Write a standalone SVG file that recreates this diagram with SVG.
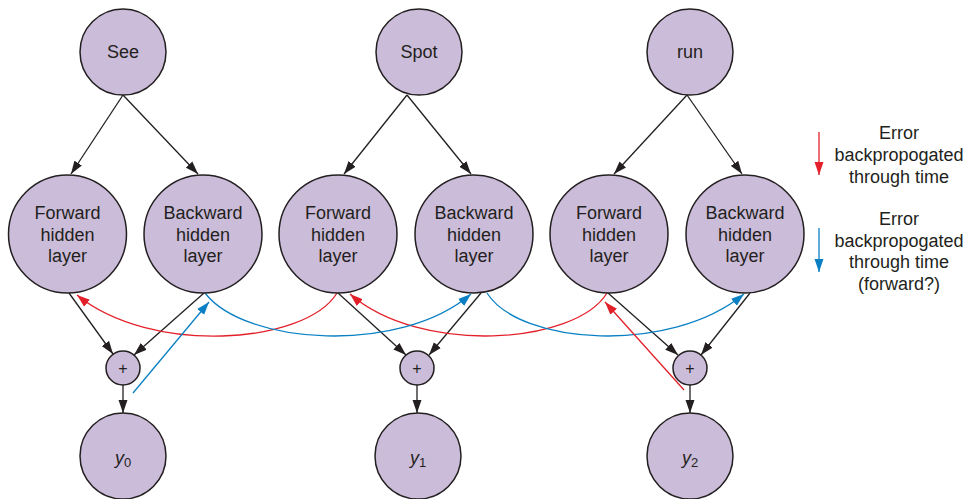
<svg xmlns="http://www.w3.org/2000/svg" width="970" height="499" viewBox="0 0 970 499">
<style>
.n{fill:#cbbcd9;stroke:#231f20;stroke-width:1.5}
.t{font-family:"Liberation Sans",Arial,sans-serif;font-size:18px;fill:#231f20;text-anchor:middle}
.k{fill:none;stroke:#231f20;stroke-width:1.3}
.r{fill:none;stroke:#e3202a;stroke-width:1.3}
.b{fill:none;stroke:#0a80c4;stroke-width:1.3}
</style>
<defs>
<marker id="ak" markerUnits="userSpaceOnUse" markerWidth="14" markerHeight="10" refX="13" refY="5" orient="auto"><path d="M0,0.5 L13,5 L0,9.5 Z" fill="#231f20"/></marker>
<marker id="ar" markerUnits="userSpaceOnUse" markerWidth="14" markerHeight="10" refX="13" refY="5" orient="auto"><path d="M0,0.5 L13,5 L0,9.5 Z" fill="#e3202a"/></marker>
<marker id="ab" markerUnits="userSpaceOnUse" markerWidth="14" markerHeight="10" refX="13" refY="5" orient="auto"><path d="M0,0.5 L13,5 L0,9.5 Z" fill="#0a80c4"/></marker>
</defs>
<rect width="970" height="499" fill="#fff"/>
<g id="connectors">
<path class="k" marker-end="url(#ak)" d="M123,95 L71,174"/>
<path class="k" marker-end="url(#ak)" d="M123,95 L198,174"/>
<path class="k" marker-end="url(#ak)" d="M407,95 L344,174"/>
<path class="k" marker-end="url(#ak)" d="M407,95 L471,174"/>
<path class="k" marker-end="url(#ak)" d="M687,95 L614,174"/>
<path class="k" marker-end="url(#ak)" d="M687,95 L742,174"/>
<path class="k" marker-end="url(#ak)" d="M69,293 L113,354"/>
<path class="k" marker-end="url(#ak)" d="M204,293 L134,355"/>
<path class="k" marker-end="url(#ak)" d="M338,293 L406,355"/>
<path class="k" marker-end="url(#ak)" d="M481,293 L429,355"/>
<path class="k" marker-end="url(#ak)" d="M608,293 L678,355"/>
<path class="k" marker-end="url(#ak)" d="M750,293 L701,355"/>
<path class="k" marker-end="url(#ak)" d="M123,385 L123,413"/>
<path class="k" marker-end="url(#ak)" d="M417,385 L417,413"/>
<path class="k" marker-end="url(#ak)" d="M690,385 L690,413"/>
<path class="r" marker-end="url(#ar)" d="M337,293 C305,345 150,355 77,295"/>
<path class="r" marker-end="url(#ar)" d="M607,293 C575,345 420,355 350,294"/>
<path class="b" marker-end="url(#ab)" d="M205,293 C245,345 400,355 471,294"/>
<path class="b" marker-end="url(#ab)" d="M487,293 C520,345 670,355 744,294"/>
<path class="b" marker-end="url(#ab)" d="M133,393 L209,302"/>
<path class="r" marker-end="url(#ar)" d="M684,390 L605,302"/>
<path class="r" marker-end="url(#ar)" d="M819,132 L819,175"/>
<path class="b" marker-end="url(#ab)" d="M819,228 L819,272"/>
</g>
<g id="see"><circle class="n" cx="123" cy="52" r="43"/><text class="t" x="123" y="58">See</text></g>
<g id="spot"><circle class="n" cx="419" cy="52" r="43"/><text class="t" x="419" y="58">Spot</text></g>
<g id="run"><circle class="n" cx="690" cy="52" r="43"/><text class="t" x="690" y="58">run</text></g>
<g id="fwd0"><circle class="n" cx="67.5" cy="234" r="59"/><text class="t" x="67.5" y="219">Forward<tspan x="67.5" dy="21.5">hidden</tspan><tspan x="67.5" dy="21.5">layer</tspan></text></g>
<g id="bwd0"><circle class="n" cx="203" cy="234" r="59"/><text class="t" x="203" y="219">Backward<tspan x="203" dy="21.5">hidden</tspan><tspan x="203" dy="21.5">layer</tspan></text></g>
<g id="fwd1"><circle class="n" cx="338" cy="234" r="59"/><text class="t" x="338" y="219">Forward<tspan x="338" dy="21.5">hidden</tspan><tspan x="338" dy="21.5">layer</tspan></text></g>
<g id="bwd1"><circle class="n" cx="474" cy="234" r="59"/><text class="t" x="474" y="219">Backward<tspan x="474" dy="21.5">hidden</tspan><tspan x="474" dy="21.5">layer</tspan></text></g>
<g id="fwd2"><circle class="n" cx="609" cy="234" r="59"/><text class="t" x="609" y="219">Forward<tspan x="609" dy="21.5">hidden</tspan><tspan x="609" dy="21.5">layer</tspan></text></g>
<g id="bwd2"><circle class="n" cx="745" cy="234" r="59"/><text class="t" x="745" y="219">Backward<tspan x="745" dy="21.5">hidden</tspan><tspan x="745" dy="21.5">layer</tspan></text></g>
<g id="plus0"><circle class="n" cx="123" cy="368" r="17"/><text class="t" x="123" y="374" style="font-size:16px">+</text></g>
<g id="plus1"><circle class="n" cx="417" cy="368" r="17"/><text class="t" x="417" y="374" style="font-size:16px">+</text></g>
<g id="plus2"><circle class="n" cx="690" cy="368" r="17"/><text class="t" x="690" y="374" style="font-size:16px">+</text></g>
<g id="y0"><circle class="n" cx="123" cy="456" r="43"/><text class="t" x="123" y="464"><tspan font-style="italic">y</tspan><tspan style="font-size:13px" dy="3">0</tspan></text></g>
<g id="y1"><circle class="n" cx="418" cy="456" r="43"/><text class="t" x="418" y="464"><tspan font-style="italic">y</tspan><tspan style="font-size:13px" dy="3">1</tspan></text></g>
<g id="y2"><circle class="n" cx="690" cy="456" r="43"/><text class="t" x="690" y="464"><tspan font-style="italic">y</tspan><tspan style="font-size:13px" dy="3">2</tspan></text></g>
<g id="legend">
<text class="t" x="899" y="139">Error<tspan x="899" dy="22">backpropogated</tspan><tspan x="899" dy="22">through time</tspan></text>
<text class="t" x="899" y="225">Error<tspan x="899" dy="21.5">backpropogated</tspan><tspan x="899" dy="21.5">through time</tspan><tspan x="899" dy="21.5">(forward?)</tspan></text>
</g>
</svg>
